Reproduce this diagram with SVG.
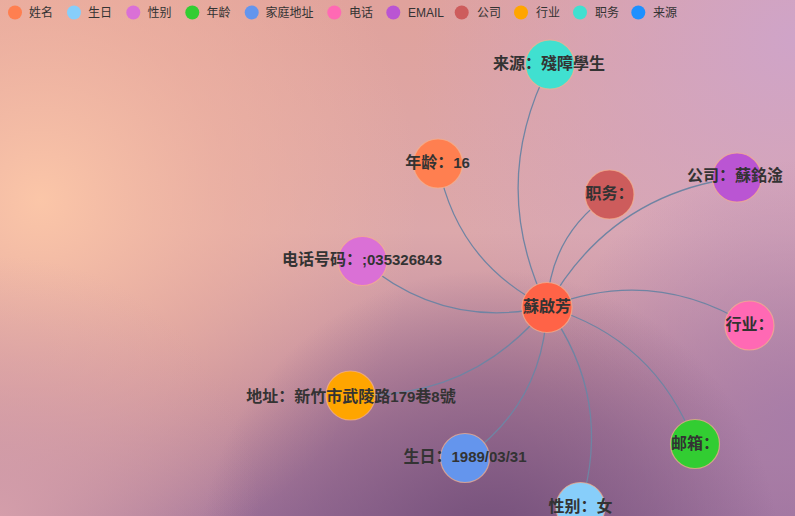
<svg xmlns="http://www.w3.org/2000/svg" width="795" height="516" viewBox="0 0 795 516">
<defs>
<linearGradient id="bgv" x1="0" y1="0" x2="0" y2="1">
<stop offset="0" stop-color="#e0a29c"/>
<stop offset="0.45" stop-color="#dca8ab"/>
<stop offset="0.75" stop-color="#bf8a9e"/>
<stop offset="1" stop-color="#a0739a"/>
</linearGradient>
<radialGradient id="peach" cx="40" cy="200" r="380" gradientUnits="userSpaceOnUse">
<stop offset="0" stop-color="#fbc6a8" stop-opacity="1"/>
<stop offset="0.5" stop-color="#f2b5a0" stop-opacity="0.6"/>
<stop offset="1" stop-color="#f2b5a0" stop-opacity="0"/>
</radialGradient>
<radialGradient id="lav" cx="795" cy="40" r="380" gradientUnits="userSpaceOnUse">
<stop offset="0" stop-color="#cfa4c8" stop-opacity="1"/>
<stop offset="1" stop-color="#cfa4c8" stop-opacity="0"/>
</radialGradient>
<radialGradient id="dark" cx="490" cy="560" r="290" gradientUnits="userSpaceOnUse">
<stop offset="0" stop-color="#6f4b76" stop-opacity="0.95"/>
<stop offset="0.6" stop-color="#7a5580" stop-opacity="0.5"/>
<stop offset="1" stop-color="#7a5580" stop-opacity="0"/>
</radialGradient>
<radialGradient id="rightp" cx="800" cy="420" r="260" gradientUnits="userSpaceOnUse">
<stop offset="0" stop-color="#a67ca9" stop-opacity="0.9"/>
<stop offset="1" stop-color="#a67ca9" stop-opacity="0"/>
</radialGradient>
<radialGradient id="blpink" cx="0" cy="516" r="260" gradientUnits="userSpaceOnUse">
<stop offset="0" stop-color="#d49eaa" stop-opacity="1"/>
<stop offset="1" stop-color="#d49eaa" stop-opacity="0"/>
</radialGradient>
<style>
.edge{fill:none;stroke:#6f84a3;stroke-width:1.3}
.node{stroke:#f6b08c;stroke-opacity:0.7;stroke-width:1.2}
.lbl{font-family:"Noto Sans CJK SC","Liberation Sans",sans-serif;font-size:16px;font-weight:bold;fill:#333;text-anchor:middle}
.lat{font-family:"Liberation Sans","Noto Sans CJK SC",sans-serif;font-size:15px}
.leg{font-family:"Noto Sans CJK SC","Liberation Sans",sans-serif;font-size:12px;fill:#333}
.legl{font-family:"Liberation Sans",sans-serif}
</style>
</defs>
<g id="background">
<rect width="795" height="516" fill="url(#bgv)"/>
<rect width="795" height="516" fill="url(#peach)"/>
<rect width="795" height="516" fill="url(#lav)"/>
<rect width="795" height="516" fill="url(#rightp)"/>
<rect width="795" height="516" fill="url(#blpink)"/>
<rect width="795" height="516" fill="url(#dark)"/>
</g>
<g id="legend">
<circle cx="15" cy="12.5" r="7" fill="#ff7f50"/><text class="leg" x="29" y="17">姓名</text>
<circle cx="74" cy="12.5" r="7" fill="#87cefa"/><text class="leg" x="88" y="17">生日</text>
<circle cx="133.3" cy="12.5" r="7" fill="#da70d6"/><text class="leg" x="147.5" y="17">性别</text>
<circle cx="192.3" cy="12.5" r="7" fill="#32cd32"/><text class="leg" x="206.5" y="17">年龄</text>
<circle cx="251.7" cy="12.5" r="7" fill="#6495ed"/><text class="leg" x="265.5" y="17">家庭地址</text>
<circle cx="334.3" cy="12.5" r="7" fill="#ff69b4"/><text class="leg" x="349" y="17">电话</text>
<circle cx="393.3" cy="12.5" r="7" fill="#ba55d3"/><text class="leg legl" x="408" y="17">EMAIL</text>
<circle cx="461.7" cy="12.5" r="7" fill="#cd5c5c"/><text class="leg" x="477" y="17">公司</text>
<circle cx="521" cy="12.5" r="7" fill="#ffa500"/><text class="leg" x="536" y="17">行业</text>
<circle cx="580" cy="12.5" r="7" fill="#40e0d0"/><text class="leg" x="595" y="17">职务</text>
<circle cx="638.3" cy="12.5" r="7" fill="#1e90ff"/><text class="leg" x="653" y="17">来源</text>
</g>
<g id="connectors">
<path class="edge" d="M547 307 Q487.75 184.75 550 64.5"/>
<path class="edge" d="M547 307 Q456.75 262.75 438 163.5"/>
<path class="edge" d="M547 307 Q550.1 235.1 609.5 194.5"/>
<path class="edge" d="M547 307 Q609.6 194.75 737 177.5"/>
<path class="edge" d="M547 307 Q443.25 330.1 362.5 261"/>
<path class="edge" d="M547 307 Q652.9 265.6 749.5 325.5"/>
<path class="edge" d="M547 307 Q655.25 338.5 695 444"/>
<path class="edge" d="M547 307 Q613.75 398.6 580.5 507"/>
<path class="edge" d="M547 307 Q543.75 403 465 458"/>
<path class="edge" d="M547 307 Q470.75 400.1 350.5 395"/>
</g>
<g id="n-source"><circle class="node" cx="550" cy="64.5" r="24.5" fill="#40e0d0"/><text class="lbl" x="549" y="68.5">来源：殘障學生</text></g>
<g id="n-age"><circle class="node" cx="438" cy="163.5" r="24.5" fill="#ff7f50"/><text class="lbl" x="437.5" y="167.5">年龄：<tspan class="lat">16</tspan></text></g>
<g id="n-title"><circle class="node" cx="609.5" cy="194.5" r="24.5" fill="#cd5c5c"/><text class="lbl" x="609.5" y="198.5">职务：</text></g>
<g id="n-company"><circle class="node" cx="737" cy="177.5" r="24.5" fill="#ba55d3"/><text class="lbl" x="735" y="180.5">公司：蘇銘淦</text></g>
<g id="n-phone"><circle class="node" cx="362.5" cy="261" r="24.5" fill="#da70d6"/><text class="lbl" x="362" y="265">电话号码：<tspan class="lat">;035326843</tspan></text></g>
<g id="n-name"><circle class="node" cx="547" cy="307.5" r="25" fill="#ff6347"/><text class="lbl" x="547" y="312">蘇啟芳</text></g>
<g id="n-industry"><circle class="node" cx="749.5" cy="325.5" r="24.5" fill="#ff69b4"/><text class="lbl" x="749.5" y="330">行业：</text></g>
<g id="n-address"><circle class="node" cx="350.5" cy="395.5" r="24.5" fill="#ffa500"/><text class="lbl" x="351" y="401.5">地址：新竹市武陵路<tspan class="lat">179</tspan>巷<tspan class="lat">8</tspan>號</text></g>
<g id="n-email"><circle class="node" cx="695" cy="444" r="24.5" fill="#32cd32"/><text class="lbl" x="695" y="448.5">邮箱：</text></g>
<g id="n-birthday"><circle class="node" cx="465" cy="458" r="24.5" fill="#6495ed"/><text class="lbl" x="465" y="462">生日：<tspan class="lat">1989/03/31</tspan></text></g>
<g id="n-gender"><circle class="node" cx="580.5" cy="507" r="24.5" fill="#87cefa"/><text class="lbl" x="580.5" y="512">性别：女</text></g>
</svg>
